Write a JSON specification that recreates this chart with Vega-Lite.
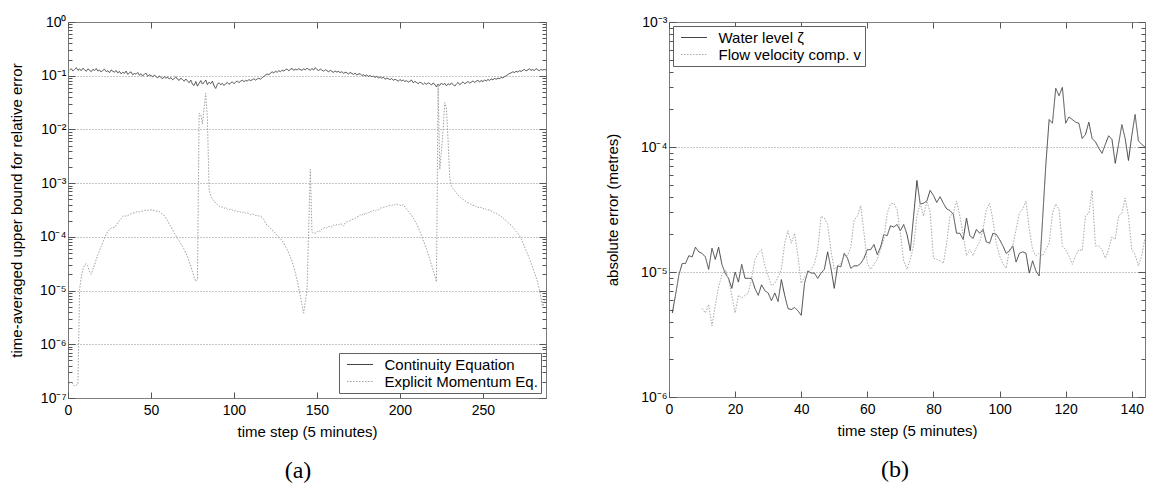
{
"$schema": "https://vega.github.io/schema/vega-lite/v6.json",
"background": "white",
"padding": {"left": 8, "top": 14, "right": 5, "bottom": 5},
"spacing": 55,
"resolve": {"scale": {"color": "independent", "strokeDash": "independent"}, "legend": {"color": "independent", "strokeDash": "independent"}},
"config": {
  "font": "Liberation Sans",
  "view": {"stroke": "#7a7a7a", "strokeWidth": 1},
  "axis": {"labelFont": "Liberation Sans", "labelFontSize": 14, "labelColor": "black", "titleFont": "Liberation Sans", "titleFontSize": 15, "titleFontWeight": "normal", "titleColor": "black", "tickColor": "#555555", "domain": false, "labelFlush": false, "labelOverlap": false},
  "legend": {"labelFont": "Liberation Sans", "labelFontSize": 15, "labelColor": "black"}
},
"datasets": {
"a": [
{"t":1,"c":0.128,"m":1.9e-7},{"t":2,"c":0.135,"m":2.0e-7},{"t":3,"c":0.122,"m":1.8e-7},{"t":4,"c":0.131,"m":1.66e-7},{"t":5,"c":0.141,"m":1.74e-7},{"t":6,"c":0.126,"m":1.82e-7},{"t":7,"c":0.133,"m":1.07e-5},{"t":8,"c":0.124,"m":1.78e-5},{"t":9,"c":0.138,"m":2.5e-5},{"t":10,"c":0.129,"m":3.0e-5},
{"t":11,"c":0.121,"m":3.16e-5},{"t":12,"c":0.134,"m":2.8e-5},{"t":13,"c":0.127,"m":2.24e-5},{"t":14,"c":0.119,"m":2.0e-5},{"t":15,"c":0.131,"m":2.5e-5},{"t":16,"c":0.125,"m":3.0e-5},{"t":17,"c":0.136,"m":3.8e-5},{"t":18,"c":0.122,"m":4.7e-5},{"t":19,"c":0.128,"m":5.6e-5},{"t":20,"c":0.117,"m":6.6e-5},
{"t":21,"c":0.126,"m":7.9e-5},{"t":22,"c":0.132,"m":9.5e-5},{"t":23,"c":0.119,"m":1.12e-4},{"t":24,"c":0.124,"m":1.26e-4},{"t":25,"c":0.114,"m":1.38e-4},{"t":26,"c":0.128,"m":1.45e-4},{"t":27,"c":0.121,"m":1.51e-4},{"t":28,"c":0.117,"m":1.48e-4},{"t":29,"c":0.125,"m":1.66e-4},{"t":30,"c":0.113,"m":1.82e-4},
{"t":31,"c":0.12,"m":2.0e-4},{"t":32,"c":0.108,"m":2.19e-4},{"t":33,"c":0.116,"m":2.4e-4},{"t":34,"c":0.111,"m":2.5e-4},{"t":35,"c":0.122,"m":2.4e-4},{"t":36,"c":0.106,"m":2.5e-4},{"t":37,"c":0.113,"m":2.6e-4},{"t":38,"c":0.118,"m":2.7e-4},{"t":39,"c":0.104,"m":2.75e-4},{"t":40,"c":0.11,"m":2.8e-4},
{"t":41,"c":0.107,"m":2.9e-4},{"t":42,"c":0.115,"m":2.95e-4},{"t":43,"c":0.102,"m":2.9e-4},{"t":44,"c":0.109,"m":3.0e-4},{"t":45,"c":0.099,"m":3.0e-4},{"t":46,"c":0.106,"m":3.1e-4},{"t":47,"c":0.112,"m":3.16e-4},{"t":48,"c":0.098,"m":3.1e-4},{"t":49,"c":0.104,"m":3.16e-4},{"t":50,"c":0.101,"m":3.2e-4},
{"t":51,"c":0.095,"m":3.16e-4},{"t":52,"c":0.103,"m":3.1e-4},{"t":53,"c":0.097,"m":3.0e-4},{"t":54,"c":0.091,"m":3.0e-4},{"t":55,"c":0.099,"m":2.95e-4},{"t":56,"c":0.093,"m":2.8e-4},{"t":57,"c":0.088,"m":2.6e-4},{"t":58,"c":0.096,"m":2.5e-4},{"t":59,"c":0.09,"m":2.24e-4},{"t":60,"c":0.094,"m":2.0e-4},
{"t":61,"c":0.087,"m":1.74e-4},{"t":62,"c":0.092,"m":1.55e-4},{"t":63,"c":0.084,"m":1.35e-4},{"t":64,"c":0.089,"m":1.17e-4},{"t":65,"c":0.095,"m":1.05e-4},{"t":66,"c":0.086,"m":9.3e-5},{"t":67,"c":0.082,"m":8.3e-5},{"t":68,"c":0.09,"m":7.4e-5},{"t":69,"c":0.085,"m":6.6e-5},{"t":70,"c":0.079,"m":5.8e-5},
{"t":71,"c":0.087,"m":5.0e-5},{"t":72,"c":0.08,"m":4.3e-5},{"t":73,"c":0.074,"m":3.5e-5},{"t":74,"c":0.083,"m":2.8e-5},{"t":75,"c":0.069,"m":2.24e-5},{"t":76,"c":0.066,"m":1.78e-5},{"t":77,"c":0.078,"m":1.48e-5},{"t":78,"c":0.064,"m":1.58e-5},{"t":79,"c":0.072,"m":2.0e-2},{"t":80,"c":0.081,"m":1.9e-2},
{"t":81,"c":0.07,"m":1.26e-2},{"t":82,"c":0.075,"m":2.5e-2},{"t":83,"c":0.083,"m":4.7e-2},{"t":84,"c":0.068,"m":1.58e-2},{"t":85,"c":0.076,"m":7.9e-4},{"t":86,"c":0.071,"m":5.6e-4},{"t":87,"c":0.079,"m":5.0e-4},{"t":88,"c":0.065,"m":4.7e-4},{"t":89,"c":0.058,"m":4.2e-4},{"t":90,"c":0.069,"m":4.0e-4},
{"t":91,"c":0.074,"m":3.8e-4},{"t":92,"c":0.068,"m":3.55e-4},{"t":93,"c":0.072,"m":3.6e-4},{"t":94,"c":0.066,"m":3.4e-4},{"t":95,"c":0.071,"m":3.5e-4},{"t":96,"c":0.075,"m":3.3e-4},{"t":97,"c":0.069,"m":3.2e-4},{"t":98,"c":0.073,"m":3.3e-4},{"t":99,"c":0.077,"m":3.16e-4},{"t":100,"c":0.071,"m":3.0e-4},
{"t":101,"c":0.076,"m":3.1e-4},{"t":102,"c":0.08,"m":2.95e-4},{"t":103,"c":0.074,"m":3.0e-4},{"t":104,"c":0.079,"m":2.9e-4},{"t":105,"c":0.083,"m":2.8e-4},{"t":106,"c":0.077,"m":2.95e-4},{"t":107,"c":0.082,"m":2.75e-4},{"t":108,"c":0.079,"m":2.8e-4},{"t":109,"c":0.085,"m":2.7e-4},{"t":110,"c":0.081,"m":2.6e-4},
{"t":111,"c":0.084,"m":2.7e-4},{"t":112,"c":0.088,"m":2.57e-4},{"t":113,"c":0.083,"m":2.5e-4},{"t":114,"c":0.087,"m":2.5e-4},{"t":115,"c":0.09,"m":2.45e-4},{"t":116,"c":0.086,"m":2.4e-4},{"t":117,"c":0.092,"m":2.3e-4},{"t":118,"c":0.097,"m":2.1e-4},{"t":119,"c":0.103,"m":1.82e-4},{"t":120,"c":0.108,"m":1.62e-4},
{"t":121,"c":0.104,"m":1.55e-4},{"t":122,"c":0.112,"m":1.45e-4},{"t":123,"c":0.118,"m":1.32e-4},{"t":124,"c":0.113,"m":1.26e-4},{"t":125,"c":0.121,"m":1.17e-4},{"t":126,"c":0.116,"m":1.07e-4},{"t":127,"c":0.124,"m":1.0e-4},{"t":128,"c":0.119,"m":9.3e-5},{"t":129,"c":0.127,"m":8.5e-5},{"t":130,"c":0.122,"m":7.6e-5},
{"t":131,"c":0.129,"m":6.6e-5},{"t":132,"c":0.133,"m":5.8e-5},{"t":133,"c":0.124,"m":5.0e-5},{"t":134,"c":0.131,"m":4.2e-5},{"t":135,"c":0.137,"m":3.5e-5},{"t":136,"c":0.126,"m":2.75e-5},{"t":137,"c":0.132,"m":2.1e-5},{"t":138,"c":0.128,"m":1.58e-5},{"t":139,"c":0.135,"m":1.12e-5},{"t":140,"c":0.13,"m":7.9e-6},
{"t":141,"c":0.126,"m":5.5e-6},{"t":142,"c":0.134,"m":3.8e-6},{"t":143,"c":0.129,"m":6.3e-6},{"t":144,"c":0.138,"m":1.0e-5},{"t":145,"c":0.131,"m":1.26e-4},{"t":146,"c":0.127,"m":1.8e-3},{"t":147,"c":0.136,"m":1.26e-4},{"t":148,"c":0.128,"m":1.17e-4},{"t":149,"c":0.141,"m":1.17e-4},{"t":150,"c":0.13,"m":1.2e-4},
{"t":151,"c":0.125,"m":1.32e-4},{"t":152,"c":0.133,"m":1.26e-4},{"t":153,"c":0.127,"m":1.41e-4},{"t":154,"c":0.121,"m":1.45e-4},{"t":155,"c":0.13,"m":1.51e-4},{"t":156,"c":0.124,"m":1.45e-4},{"t":157,"c":0.118,"m":1.55e-4},{"t":158,"c":0.127,"m":1.58e-4},{"t":159,"c":0.12,"m":1.51e-4},{"t":160,"c":0.116,"m":1.66e-4},
{"t":161,"c":0.122,"m":1.62e-4},{"t":162,"c":0.117,"m":1.7e-4},{"t":163,"c":0.12,"m":1.66e-4},{"t":164,"c":0.114,"m":1.78e-4},{"t":165,"c":0.119,"m":1.7e-4},{"t":166,"c":0.111,"m":1.58e-4},{"t":167,"c":0.116,"m":1.82e-4},{"t":168,"c":0.113,"m":1.91e-4},{"t":169,"c":0.108,"m":1.95e-4},{"t":170,"c":0.115,"m":2.0e-4},
{"t":171,"c":0.11,"m":2.1e-4},{"t":172,"c":0.106,"m":2.14e-4},{"t":173,"c":0.112,"m":2.19e-4},{"t":174,"c":0.103,"m":2.34e-4},{"t":175,"c":0.107,"m":2.4e-4},{"t":176,"c":0.109,"m":2.6e-4},{"t":177,"c":0.101,"m":2.5e-4},{"t":178,"c":0.104,"m":2.75e-4},{"t":179,"c":0.099,"m":2.6e-4},{"t":180,"c":0.103,"m":2.8e-4},
{"t":181,"c":0.097,"m":2.75e-4},{"t":182,"c":0.101,"m":3.0e-4},{"t":183,"c":0.096,"m":2.9e-4},{"t":184,"c":0.098,"m":3.1e-4},{"t":185,"c":0.093,"m":3.0e-4},{"t":186,"c":0.097,"m":3.2e-4},{"t":187,"c":0.091,"m":3.16e-4},{"t":188,"c":0.095,"m":3.4e-4},{"t":189,"c":0.09,"m":3.5e-4},{"t":190,"c":0.094,"m":3.55e-4},
{"t":191,"c":0.086,"m":3.6e-4},{"t":192,"c":0.09,"m":3.7e-4},{"t":193,"c":0.088,"m":3.8e-4},{"t":194,"c":0.084,"m":3.9e-4},{"t":195,"c":0.089,"m":3.8e-4},{"t":196,"c":0.082,"m":4.0e-4},{"t":197,"c":0.086,"m":3.9e-4},{"t":198,"c":0.083,"m":4.1e-4},{"t":199,"c":0.079,"m":4.0e-4},{"t":200,"c":0.085,"m":3.9e-4},
{"t":201,"c":0.08,"m":3.8e-4},{"t":202,"c":0.083,"m":4.0e-4},{"t":203,"c":0.078,"m":3.6e-4},{"t":204,"c":0.081,"m":3.3e-4},{"t":205,"c":0.076,"m":3.0e-4},{"t":206,"c":0.079,"m":2.75e-4},{"t":207,"c":0.083,"m":2.5e-4},{"t":208,"c":0.074,"m":2.24e-4},{"t":209,"c":0.078,"m":2.0e-4},{"t":210,"c":0.075,"m":1.74e-4},
{"t":211,"c":0.071,"m":1.51e-4},{"t":212,"c":0.076,"m":1.26e-4},{"t":213,"c":0.073,"m":1.05e-4},{"t":214,"c":0.069,"m":8.7e-5},{"t":215,"c":0.074,"m":7.2e-5},{"t":216,"c":0.069,"m":6.0e-5},{"t":217,"c":0.074,"m":4.8e-5},{"t":218,"c":0.071,"m":3.8e-5},{"t":219,"c":0.067,"m":3.0e-5},{"t":220,"c":0.073,"m":2.4e-5},
{"t":221,"c":0.069,"m":1.91e-5},{"t":222,"c":0.062,"m":1.45e-5},{"t":223,"c":0.07,"m":6.9e-2},{"t":224,"c":0.066,"m":1.8e-3},{"t":225,"c":0.073,"m":4.0e-3},{"t":226,"c":0.068,"m":1.0e-2},{"t":227,"c":0.072,"m":3.16e-2},{"t":228,"c":0.065,"m":2.5e-2},{"t":229,"c":0.071,"m":6.3e-3},{"t":230,"c":0.067,"m":1.26e-3},
{"t":231,"c":0.073,"m":8.9e-4},{"t":232,"c":0.069,"m":7.9e-4},{"t":233,"c":0.064,"m":7.2e-4},{"t":234,"c":0.07,"m":6.6e-4},{"t":235,"c":0.075,"m":6.0e-4},{"t":236,"c":0.068,"m":5.6e-4},{"t":237,"c":0.072,"m":5.2e-4},{"t":238,"c":0.077,"m":5.0e-4},{"t":239,"c":0.071,"m":4.7e-4},{"t":240,"c":0.074,"m":4.5e-4},
{"t":241,"c":0.078,"m":4.3e-4},{"t":242,"c":0.073,"m":4.2e-4},{"t":243,"c":0.076,"m":4.0e-4},{"t":244,"c":0.08,"m":3.8e-4},{"t":245,"c":0.075,"m":3.9e-4},{"t":246,"c":0.079,"m":3.6e-4},{"t":247,"c":0.082,"m":3.55e-4},{"t":248,"c":0.077,"m":3.5e-4},{"t":249,"c":0.081,"m":3.55e-4},{"t":250,"c":0.078,"m":3.3e-4},
{"t":251,"c":0.083,"m":3.4e-4},{"t":252,"c":0.08,"m":3.2e-4},{"t":253,"c":0.085,"m":3.16e-4},{"t":254,"c":0.082,"m":3.2e-4},{"t":255,"c":0.087,"m":3.0e-4},{"t":256,"c":0.084,"m":2.95e-4},{"t":257,"c":0.089,"m":2.8e-4},{"t":258,"c":0.086,"m":2.75e-4},{"t":259,"c":0.09,"m":2.6e-4},{"t":260,"c":0.088,"m":2.5e-4},
{"t":261,"c":0.093,"m":2.4e-4},{"t":262,"c":0.091,"m":2.24e-4},{"t":263,"c":0.096,"m":2.1e-4},{"t":264,"c":0.1,"m":2.0e-4},{"t":265,"c":0.105,"m":1.86e-4},{"t":266,"c":0.11,"m":1.74e-4},{"t":267,"c":0.113,"m":1.66e-4},{"t":268,"c":0.118,"m":1.51e-4},{"t":269,"c":0.115,"m":1.38e-4},{"t":270,"c":0.121,"m":1.26e-4},
{"t":271,"c":0.117,"m":1.17e-4},{"t":272,"c":0.124,"m":1.05e-4},{"t":273,"c":0.12,"m":9.3e-5},{"t":274,"c":0.126,"m":7.9e-5},{"t":275,"c":0.131,"m":6.6e-5},{"t":276,"c":0.123,"m":5.6e-5},{"t":277,"c":0.128,"m":4.7e-5},{"t":278,"c":0.134,"m":4.0e-5},{"t":279,"c":0.126,"m":3.3e-5},{"t":280,"c":0.13,"m":2.7e-5},
{"t":281,"c":0.125,"m":2.19e-5},{"t":282,"c":0.136,"m":1.78e-5},{"t":283,"c":0.129,"m":1.41e-5},{"t":284,"c":0.124,"m":1.05e-5},{"t":285,"c":0.132,"m":7.1e-6},{"t":286,"c":0.127,"m":4.8e-6},{"t":287,"c":0.131,"m":6.3e-6},{"t":288,"c":0.128,"m":7.1e-6}
],
"b": [
{"t":1,"w":4.7e-6},{"t":2,"w":6.6e-6},{"t":3,"w":9.5e-6},{"t":4,"w":1.17e-5},{"t":5,"w":1.17e-5},{"t":6,"w":1.35e-5},{"t":7,"w":1.32e-5},{"t":8,"w":1.58e-5},{"t":9,"w":1.45e-5},{"t":10,"w":1.41e-5,"f":5.1e-6},
{"t":11,"w":1.32e-5,"f":4.7e-6},{"t":12,"w":1.05e-5,"f":5.5e-6},{"t":13,"w":1.55e-5,"f":3.7e-6},{"t":14,"w":1.26e-5,"f":5.4e-6},{"t":15,"w":1.58e-5,"f":7.6e-6},{"t":16,"w":1.15e-5,"f":9.5e-6},{"t":17,"w":9.8e-6,"f":1.05e-5},{"t":18,"w":8.9e-6,"f":8.7e-6},{"t":19,"w":7.4e-6,"f":6.5e-6},{"t":20,"w":1.0e-5,"f":4.7e-6},
{"t":21,"w":8.3e-6,"f":6.5e-6},{"t":22,"w":1.15e-5,"f":6.2e-6},{"t":23,"w":8.9e-6,"f":6.5e-6},{"t":24,"w":8.9e-6,"f":6.8e-6},{"t":25,"w":8.9e-6,"f":8.9e-6},{"t":26,"w":7.4e-6,"f":1.26e-5},{"t":27,"w":6.5e-6,"f":1.41e-5},{"t":28,"w":7.9e-6,"f":1.51e-5},{"t":29,"w":7.1e-6,"f":1.12e-5},{"t":30,"w":6.8e-6,"f":9.3e-6},
{"t":31,"w":5.9e-6,"f":7.8e-6},{"t":32,"w":6.8e-6,"f":8.1e-6},{"t":33,"w":5.8e-6,"f":9.1e-6},{"t":34,"w":8.7e-6,"f":1.05e-5},{"t":35,"w":6.5e-6,"f":1.7e-5},{"t":36,"w":5.1e-6,"f":2.14e-5},{"t":37,"w":5.0e-6,"f":1.7e-5},{"t":38,"w":5.2e-6,"f":2.04e-5},{"t":39,"w":4.9e-6,"f":1.35e-5},{"t":40,"w":4.5e-6,"f":8.1e-6},
{"t":41,"w":8.1e-6,"f":9.1e-6},{"t":42,"w":1.02e-5,"f":9.8e-6},{"t":43,"w":9.8e-6,"f":1.05e-5},{"t":44,"w":9.8e-6,"f":1.17e-5},{"t":45,"w":8.9e-6,"f":1.51e-5},{"t":46,"w":9.8e-6,"f":2.8e-5},{"t":47,"w":1.05e-5,"f":2.7e-5},{"t":48,"w":1.45e-5,"f":2.4e-5},{"t":49,"w":1.07e-5,"f":1.48e-5},{"t":50,"w":7.4e-6,"f":1.05e-5},
{"t":51,"w":1.12e-5,"f":1.12e-5},{"t":52,"w":1.1e-5,"f":1.17e-5},{"t":53,"w":1.41e-5,"f":1.35e-5},{"t":54,"w":1.29e-5,"f":1.35e-5},{"t":55,"w":1.07e-5,"f":1.58e-5},{"t":56,"w":1.12e-5,"f":2.6e-5},{"t":57,"w":1.12e-5,"f":2.8e-5},{"t":58,"w":1.17e-5,"f":3.4e-5},{"t":59,"w":1.29e-5,"f":2.04e-5},{"t":60,"w":1.51e-5,"f":1.17e-5},
{"t":61,"w":1.51e-5,"f":1.05e-5},{"t":62,"w":1.66e-5,"f":1.15e-5},{"t":63,"w":1.38e-5,"f":1.26e-5},{"t":64,"w":1.58e-5,"f":1.51e-5},{"t":65,"w":2.0e-5,"f":1.82e-5},{"t":66,"w":1.95e-5,"f":2.95e-5},{"t":67,"w":2.34e-5,"f":3.5e-5},{"t":68,"w":2.29e-5,"f":3.55e-5},{"t":69,"w":2.4e-5,"f":3.16e-5},{"t":70,"w":2.14e-5,"f":2.04e-5},
{"t":71,"w":2.4e-5,"f":1.23e-5},{"t":72,"w":2.0e-5,"f":1.05e-5},{"t":73,"w":1.48e-5,"f":1.26e-5},{"t":74,"w":2.8e-5,"f":1.62e-5},{"t":75,"w":5.4e-5,"f":2.8e-5},{"t":76,"w":3.5e-5,"f":3.55e-5},{"t":77,"w":3.55e-5,"f":2.8e-5},{"t":78,"w":3.7e-5,"f":3.7e-5},{"t":79,"w":4.5e-5,"f":3.0e-5},{"t":80,"w":4.1e-5,"f":1.29e-5},
{"t":81,"w":3.6e-5,"f":1.26e-5},{"t":82,"w":4.0e-5,"f":1.23e-5},{"t":83,"w":3.55e-5,"f":1.17e-5},{"t":84,"w":3.2e-5,"f":1.7e-5},{"t":85,"w":3.1e-5,"f":2.8e-5},{"t":86,"w":2.9e-5,"f":2.95e-5},{"t":87,"w":2.04e-5,"f":3.7e-5},{"t":88,"w":2.04e-5,"f":2.8e-5},{"t":89,"w":1.82e-5,"f":1.95e-5},{"t":90,"w":2.7e-5,"f":1.35e-5},
{"t":91,"w":1.95e-5,"f":1.51e-5},{"t":92,"w":1.86e-5,"f":1.35e-5},{"t":93,"w":2.19e-5,"f":1.58e-5},{"t":94,"w":2.04e-5,"f":1.74e-5},{"t":95,"w":2.19e-5,"f":2.19e-5},{"t":96,"w":1.74e-5,"f":3.16e-5},{"t":97,"w":1.7e-5,"f":3.55e-5},{"t":98,"w":2.04e-5,"f":2.6e-5},{"t":99,"w":2.0e-5,"f":1.7e-5},{"t":100,"w":1.82e-5,"f":1.35e-5},
{"t":101,"w":1.62e-5,"f":1.17e-5},{"t":102,"w":1.41e-5,"f":1.07e-5},{"t":103,"w":1.48e-5,"f":1.51e-5},{"t":104,"w":1.62e-5,"f":1.62e-5},{"t":105,"w":1.2e-5,"f":2.19e-5},{"t":106,"w":1.41e-5,"f":2.95e-5},{"t":107,"w":1.45e-5,"f":3.2e-5},{"t":108,"w":1.41e-5,"f":3.7e-5},{"t":109,"w":9.8e-6,"f":2.19e-5},{"t":110,"w":1.23e-5,"f":1.51e-5},
{"t":111,"w":1.02e-5,"f":1.35e-5},{"t":112,"w":9.3e-6,"f":1.41e-5},{"t":113,"w":2.6e-5,"f":1.35e-5},{"t":114,"w":7.2e-5,"f":1.51e-5},{"t":115,"w":1.66e-4,"f":1.7e-5},{"t":116,"w":1.55e-4,"f":2.95e-5},{"t":117,"w":2.95e-4,"f":3.5e-5},{"t":118,"w":2.57e-4,"f":3.16e-5},{"t":119,"w":3.0e-4,"f":1.62e-5},{"t":120,"w":1.55e-4,"f":1.51e-5},
{"t":121,"w":1.74e-4,"f":1.35e-5},{"t":122,"w":1.66e-4,"f":1.15e-5},{"t":123,"w":1.58e-4,"f":1.35e-5},{"t":124,"w":1.55e-4,"f":1.51e-5},{"t":125,"w":1.17e-4,"f":1.48e-5},{"t":126,"w":1.26e-4,"f":2.8e-5},{"t":127,"w":1.58e-4,"f":2.95e-5},{"t":128,"w":1.17e-4,"f":4.5e-5},{"t":129,"w":1.1e-4,"f":1.62e-5},{"t":130,"w":9.8e-5,"f":1.62e-5},
{"t":131,"w":8.9e-5,"f":1.51e-5},{"t":132,"w":1.05e-4,"f":1.29e-5},{"t":133,"w":1.23e-4,"f":1.51e-5},{"t":134,"w":1.15e-4,"f":1.91e-5},{"t":135,"w":7.4e-5,"f":1.82e-5},{"t":136,"w":1.05e-4,"f":2.8e-5},{"t":137,"w":1.51e-4,"f":2.95e-5},{"t":138,"w":1.17e-4,"f":3.9e-5},{"t":139,"w":7.8e-5,"f":2.8e-5},{"t":140,"w":1.23e-4,"f":1.51e-5},
{"t":141,"w":1.82e-4,"f":1.38e-5},{"t":142,"w":1.12e-4,"f":1.12e-5},{"t":143,"w":1.05e-4,"f":1.35e-5},{"t":144,"w":1.0e-4,"f":1.86e-5}
]
},
"hconcat": [
{
  "width": 478, "height": 376,
  "data": {"name": "a"},
  "transform": [{"fold": ["c", "m"], "as": ["s", "v"]}],
  "title": {"text": "(a)", "orient": "bottom", "font": "Liberation Serif", "fontSize": 24, "fontWeight": "normal", "color": "black", "offset": 20, "dx": -9},
  "layer": [
    {
      "mark": {"type": "line", "strokeWidth": 1},
      "encoding": {
        "x": {"field": "t", "type": "quantitative", "scale": {"domain": [0, 288], "nice": false, "zero": false},
              "axis": {"orient": "bottom", "values": [0, 50, 100, 150, 200, 250], "title": "time step (5 minutes)", "titlePadding": 7, "tickSize": -6, "labelPadding": 11, "grid": false}},
        "y": {"field": "v", "type": "quantitative", "scale": {"type": "log", "domain": [1e-7, 1], "nice": false},
              "axis": {"orient": "left", "title": "time-averaged upper bound for relative error", "titlePadding": 15,
                       "values": [1e-7,2e-7,3e-7,4e-7,5e-7,6e-7,7e-7,8e-7,9e-7,1e-6,2e-6,3e-6,4e-6,5e-6,6e-6,7e-6,8e-6,9e-6,1e-5,2e-5,3e-5,4e-5,5e-5,6e-5,7e-5,8e-5,9e-5,1e-4,2e-4,3e-4,4e-4,5e-4,6e-4,7e-4,8e-4,9e-4,0.001,0.002,0.003,0.004,0.005,0.006,0.007,0.008,0.009,0.01,0.02,0.03,0.04,0.05,0.06,0.07,0.08,0.09,0.1,0.2,0.3,0.4,0.5,0.6,0.7,0.8,0.9,1],
                       "labelExpr": "abs(log(datum.value)/LN10 - round(log(datum.value)/LN10)) < 0.01 ? '10' + (datum.value < 0.5 ? '⁻' : '') + ['⁰','¹','²','³','⁴','⁵','⁶','⁷'][abs(round(log(datum.value)/LN10))] : ''",
                       "labelPadding": 9,
                       "tickSize": {"condition": {"test": "abs(log(datum.value)/LN10 - round(log(datum.value)/LN10)) < 0.01", "value": -7}, "value": -4},
                       "grid": true, "gridColor": "#8c8c8c", "gridDash": [1, 2],
                       "gridOpacity": {"condition": {"test": "abs(log(datum.value)/LN10 - round(log(datum.value)/LN10)) < 0.01", "value": 1}, "value": 0}}},
        "color": {"field": "s", "type": "nominal", "scale": {"domain": ["c", "m"], "range": ["#454545", "#a0a0a0"]},
                  "legend": {"title": null, "orient": "bottom-right", "offset": 5, "strokeColor": "#606060", "fillColor": "white", "padding": 3, "symbolType": "M-1.625,0H1.625", "symbolSize": 256, "symbolStrokeWidth": 1, "symbolOffset": 9.5, "labelOffset": 16, "rowPadding": 0,
                             "labelExpr": "datum.value == 'c' ? 'Continuity Equation' : 'Explicit Momentum Eq.'",
                             "encode": {"symbols": {"update": {"strokeDash": {"signal": "datum.value == 'm' ? [1.5, 1.5] : [1, 0]"}}}}}},
        "strokeDash": {"field": "s", "type": "nominal", "scale": {"domain": ["c", "m"], "range": [[1, 0], [1.5, 1.5]]}, "legend": null}
      }
    },
    {
      "mark": {"type": "line", "strokeOpacity": 0},
      "encoding": {
        "x": {"field": "t", "type": "quantitative", "axis": {"orient": "top", "values": [0, 50, 100, 150, 200, 250], "labels": false, "title": null, "tickSize": -6, "grid": false}},
        "y": {"field": "v", "type": "quantitative",
              "axis": {"orient": "right", "title": null, "labels": false, "grid": false,
                       "values": [1e-7,2e-7,3e-7,4e-7,5e-7,6e-7,7e-7,8e-7,9e-7,1e-6,2e-6,3e-6,4e-6,5e-6,6e-6,7e-6,8e-6,9e-6,1e-5,2e-5,3e-5,4e-5,5e-5,6e-5,7e-5,8e-5,9e-5,1e-4,2e-4,3e-4,4e-4,5e-4,6e-4,7e-4,8e-4,9e-4,0.001,0.002,0.003,0.004,0.005,0.006,0.007,0.008,0.009,0.01,0.02,0.03,0.04,0.05,0.06,0.07,0.08,0.09,0.1,0.2,0.3,0.4,0.5,0.6,0.7,0.8,0.9,1],
                       "tickSize": {"condition": {"test": "abs(log(datum.value)/LN10 - round(log(datum.value)/LN10)) < 0.01", "value": -7}, "value": -4}}}
      }
    }
  ],
  "resolve": {"axis": {"x": "independent", "y": "independent"}}
},
{
  "width": 476, "height": 375,
  "data": {"name": "b"},
  "transform": [{"fold": ["w", "f"], "as": ["s", "v"]}],
  "title": {"text": "(b)", "orient": "bottom", "font": "Liberation Serif", "fontSize": 24, "fontWeight": "normal", "color": "black", "offset": 20, "dx": -12},
  "layer": [
    {
      "mark": {"type": "line", "strokeWidth": 1},
      "encoding": {
        "x": {"field": "t", "type": "quantitative", "scale": {"domain": [0, 144], "nice": false, "zero": false},
              "axis": {"orient": "bottom", "values": [0, 20, 40, 60, 80, 100, 120, 140], "title": "time step (5 minutes)", "titlePadding": 7, "tickSize": -6, "labelPadding": 11, "grid": false}},
        "y": {"field": "v", "type": "quantitative", "scale": {"type": "log", "domain": [1e-6, 1e-3], "nice": false},
              "axis": {"orient": "left", "title": "absolute error (metres)", "titlePadding": 20,
                       "values": [1e-6,2e-6,3e-6,4e-6,5e-6,6e-6,7e-6,8e-6,9e-6,1e-5,2e-5,3e-5,4e-5,5e-5,6e-5,7e-5,8e-5,9e-5,1e-4,2e-4,3e-4,4e-4,5e-4,6e-4,7e-4,8e-4,9e-4,0.001],
                       "labelExpr": "abs(log(datum.value)/LN10 - round(log(datum.value)/LN10)) < 0.01 ? '10' + (datum.value < 0.5 ? '⁻' : '') + ['⁰','¹','²','³','⁴','⁵','⁶','⁷'][abs(round(log(datum.value)/LN10))] : ''",
                       "labelPadding": 9,
                       "tickSize": {"condition": {"test": "abs(log(datum.value)/LN10 - round(log(datum.value)/LN10)) < 0.01", "value": -7}, "value": -4},
                       "grid": true, "gridColor": "#8c8c8c", "gridDash": [1, 2],
                       "gridOpacity": {"condition": {"test": "abs(log(datum.value)/LN10 - round(log(datum.value)/LN10)) < 0.01", "value": 1}, "value": 0}}},
        "color": {"field": "s", "type": "nominal", "scale": {"domain": ["w", "f"], "range": ["#454545", "#a8a8a8"]},
                  "legend": {"title": null, "orient": "top-left", "offset": 4, "strokeColor": "#606060", "fillColor": "white", "padding": 3, "symbolType": "M-1.625,0H1.625", "symbolSize": 256, "symbolStrokeWidth": 1, "symbolOffset": 9.5, "labelOffset": 16, "rowPadding": 0,
                             "labelExpr": "datum.value == 'w' ? 'Water level ζ' : 'Flow velocity comp. v'",
                             "encode": {"symbols": {"update": {"strokeDash": {"signal": "datum.value == 'f' ? [1.5, 1.5] : [1, 0]"}}}}}},
        "strokeDash": {"field": "s", "type": "nominal", "scale": {"domain": ["w", "f"], "range": [[1, 0], [1.5, 1.5]]}, "legend": null}
      }
    },
    {
      "mark": {"type": "line", "strokeOpacity": 0},
      "encoding": {
        "x": {"field": "t", "type": "quantitative", "axis": {"orient": "top", "values": [0, 20, 40, 60, 80, 100, 120, 140], "labels": false, "title": null, "tickSize": -6, "grid": false}},
        "y": {"field": "v", "type": "quantitative",
              "axis": {"orient": "right", "title": null, "labels": false, "grid": false,
                       "values": [1e-6,2e-6,3e-6,4e-6,5e-6,6e-6,7e-6,8e-6,9e-6,1e-5,2e-5,3e-5,4e-5,5e-5,6e-5,7e-5,8e-5,9e-5,1e-4,2e-4,3e-4,4e-4,5e-4,6e-4,7e-4,8e-4,9e-4,0.001],
                       "tickSize": {"condition": {"test": "abs(log(datum.value)/LN10 - round(log(datum.value)/LN10)) < 0.01", "value": -7}, "value": -4}}}
      }
    }
  ],
  "resolve": {"axis": {"x": "independent", "y": "independent"}}
}
]
}
